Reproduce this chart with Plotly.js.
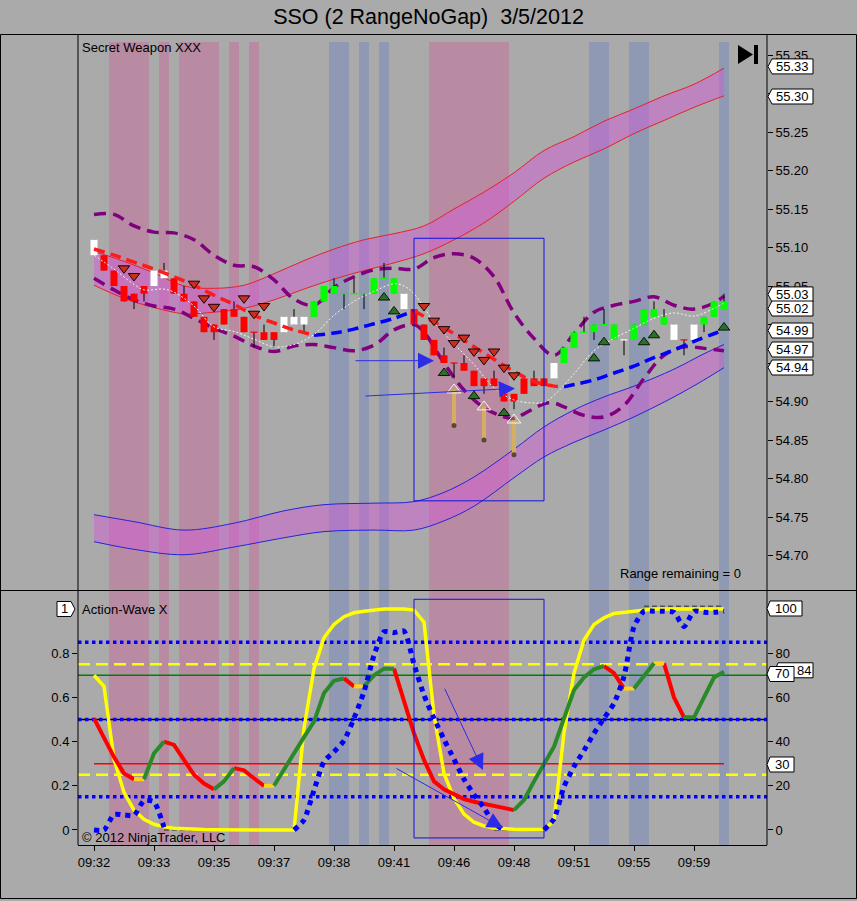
<!DOCTYPE html>
<html>
<head>
<meta charset="utf-8">
<script src="https://cdn.plot.ly/plotly-3.0.1.min.js"></script>
<style>
html,body{margin:0;padding:0;background:#AAAAAA;overflow:hidden;}
#chart{width:857px;height:901px;}
</style>
</head>
<body>
<div id="chart"></div>
<script>
// ================= DATA =================
const chartTitle = 'SSO (2 RangeNoGap)\u00A0 3/5/2012';
const upperPanelName = 'Secret Weapon XXX';
const lowerPanelName = 'Action-Wave X';
const copyrightText = '\u00A9 2012 NinjaTrader, LLC';
const rangeText = 'Range remaining = 0';

const timeTickBars   = [0, 6, 12, 18, 24, 30, 36, 42, 48, 54, 60];
const timeTickLabels = ['09:32','09:33','09:35','09:37','09:38','09:41','09:46','09:48','09:51','09:55','09:59'];

const priceTickVals = [54.70,54.75,54.80,54.85,54.90,54.95,55.00,55.05,55.10,55.15,55.20,55.25,55.30,55.35];
const priceTickHidden = [54.95,55.00,55.30];   // covered by the value flags

const barColor = ['W','R','R','R','R','R','W','W','R','R',
                  'R','R','R','R','R','R','R','R','R','W',
                  'W','W','G','G','G','G','G','G','G','G',
                  'G','W','R','R','R','R','R','R','R','R',
                  'R','R','R','R','R','R','W','G','G','G',
                  'G','G','G','W','G','G','G','G','W','R',
                  'W','G','G','G'];
const barOpen  = [55.09,55.09,55.07,55.05,55.04,55.05,55.05,55.06,55.06,55.04,
                  55.03,55.01,55.00,55.02,55.02,55.01,54.99,54.99,54.99,54.99,
                  55.00,55.00,55.01,55.03,55.04,55.04,55.04,55.04,55.04,55.06,
                  55.04,55.04,55.02,55.00,54.98,54.96,54.95,54.95,54.94,54.93,
                  54.93,54.91,54.91,54.93,54.93,54.93,54.93,54.95,54.97,54.99,
                  54.99,55.00,54.98,54.98,54.98,55.00,55.01,55.00,54.98,54.98,
                  54.98,55.00,55.01,55.02];
const barHigh  = [55.11,55.09,55.07,55.05,55.04,55.05,55.07,55.08,55.06,55.05,
                  55.03,55.01,55.00,55.02,55.03,55.01,54.99,55.00,54.99,55.01,
                  55.02,55.01,55.03,55.05,55.06,55.04,55.06,55.04,55.06,55.08,
                  55.06,55.04,55.02,55.00,54.98,54.97,54.95,54.96,54.94,54.93,
                  54.94,54.91,54.91,54.93,54.94,54.93,54.95,54.97,54.99,55.01,
                  55.00,55.02,55.00,54.98,55.00,55.02,55.03,55.02,55.00,54.98,
                  55.00,55.01,55.03,55.04];
const barLow   = [55.09,55.07,55.05,55.03,55.02,55.03,55.05,55.06,55.04,55.03,
                  55.01,54.99,54.98,55.00,55.01,54.99,54.97,54.98,54.97,54.99,
                  55.00,54.99,55.01,55.03,55.04,55.02,55.04,55.02,55.04,55.06,
                  55.04,55.02,55.00,54.98,54.96,54.95,54.93,54.94,54.92,54.91,
                  54.92,54.90,54.89,54.91,54.92,54.92,54.93,54.95,54.97,54.99,
                  54.98,55.00,54.98,54.96,54.98,55.00,55.01,55.00,54.98,54.96,
                  54.98,54.99,55.01,55.02];
const barClose = [55.11,55.07,55.05,55.03,55.03,55.04,55.07,55.07,55.04,55.03,
                  55.01,54.99,54.99,55.00,55.01,54.99,54.99,54.98,54.98,55.01,
                  55.01,55.01,55.03,55.05,55.05,55.04,55.04,55.04,55.06,55.06,
                  55.06,55.02,55.00,54.98,54.96,54.95,54.95,54.94,54.92,54.92,
                  54.92,54.90,54.90,54.91,54.92,54.92,54.95,54.97,54.99,54.99,
                  55.00,55.00,55.00,54.98,55.00,55.02,55.02,55.01,55.00,54.98,
                  55.00,55.01,55.03,55.03];

// upper channel (red edges)
const upperBandBars = [0,3,6,9,12,15,18,21,24,27,30,33,36,39,42,45,48,51,54,57,60,63];
const upperBandHigh = [55.095,55.082,55.067,55.050,55.047,55.051,55.066,55.083,55.098,55.110,55.118,55.128,55.150,55.172,55.197,55.226,55.244,55.264,55.280,55.297,55.312,55.333];
const upperBandLow  = [55.051,55.034,55.022,55.014,55.016,55.021,55.032,55.046,55.059,55.070,55.080,55.092,55.110,55.132,55.160,55.190,55.211,55.228,55.248,55.265,55.282,55.297];
// lower channel (blue edges)
const lowerBandBars = [0,4,9,14,19,23,28,32,35,38,42,45,48,51,54,58,61,63];
const lowerBandHigh = [54.753,54.744,54.733,54.742,54.758,54.766,54.768,54.770,54.782,54.802,54.838,54.867,54.889,54.906,54.920,54.942,54.962,54.974];
const lowerBandLow  = [54.718,54.708,54.701,54.711,54.723,54.731,54.733,54.733,54.745,54.764,54.801,54.828,54.847,54.863,54.880,54.906,54.928,54.944];

// purple envelopes
const envUpperBars = [0,2,4,6,8,10,12,14,16,18,20,22,24,26,28,30,32,34,36,38,40,42,44,46,48,50,52,54,56,58,60,62,63];
const envUpperVals = [55.143,55.143,55.128,55.120,55.119,55.110,55.090,55.077,55.075,55.058,55.033,55.025,55.048,55.062,55.071,55.073,55.072,55.087,55.092,55.086,55.062,55.015,54.982,54.960,54.988,55.016,55.025,55.030,55.036,55.025,55.020,55.028,55.037];
const envLowerBars = [0,2,4,6,8,10,12,14,16,18,20,22,24,26,28,30,32,33,35,37,39,41,42,43,45,46,47,49,51,53,55,57,59,61,63];
const envLowerVals = [55.060,55.045,55.032,55.024,55.020,55.008,54.995,54.985,54.972,54.965,54.972,54.974,54.970,54.966,54.973,54.993,55.000,54.990,54.950,54.915,54.892,54.880,54.878,54.884,54.897,54.898,54.893,54.882,54.880,54.895,54.930,54.960,54.971,54.969,54.966];

// trend moving average (R = falling, B = rising; code = segment ending at that point)
const maBars  = [0,2,4,6,8,10,12,14,16,18,20,22,24,26,28,30,32,34,36,38,40,42,44,46,47,48,50,52,54,56,58,60,62,63];
const maVals  = [55.098,55.090,55.081,55.072,55.062,55.051,55.038,55.026,55.012,55.002,54.993,54.986,54.989,54.994,55.001,55.008,55.018,55.003,54.988,54.971,54.955,54.939,54.926,54.920,54.919,54.922,54.928,54.937,54.946,54.957,54.967,54.978,54.988,54.993];
const maTrend = ['-','R','R','R','R','R','R','R','R','R','R','R','B','B','B','B','B','R','R','R','R','R','R','R','R','B','B','B','B','B','B','B','B','B'];

// fast (white dotted) average
const fastBars = [0,2,4,5,7,8,10,12,14,16,18,20,22,24,26,28,30,31,32,34,36,38,40,42,44,45,46,48,50,52,54,56,58,60,62,63];
const fastVals = [55.090,55.072,55.052,55.045,55.046,55.042,55.024,54.997,54.991,54.981,54.971,54.974,54.987,55.012,55.030,55.043,55.053,55.050,55.040,55.003,54.975,54.948,54.918,54.902,54.898,54.899,54.908,54.936,54.966,54.982,54.995,55.008,55.015,55.011,55.021,55.028];

// signal markers
const sellMarkBars = [3,4,10,11,12,15,16,17,33,34,35,36,37,38,39,40,41,42];
const sellMarkVals = [55.073,55.063,55.053,55.034,55.023,55.034,55.014,55.024,55.024,55.005,54.994,54.976,54.983,54.965,54.954,54.965,54.944,54.934];
const buyMarkBars  = [29,30,35,38,41,50,51,55,56,63];
const buyMarkVals  = [55.035,55.017,54.937,54.907,54.885,54.956,54.977,54.977,54.986,54.996];
const arrowMarkBars = [36,39,42];
const arrowMarkTip  = [54.915,54.893,54.876];
const arrowMarkBase = [54.869,54.850,54.831];

// highlighted bar columns
const pinkBars = [2,3,4,5,7,9,10,11,12,14,16,34,35,36,37,38,39,40,41];
const blueBars = [24,25,27,29,50,51,54,55,63];

// right-side value flags
const priceFlags = [55.33,55.30,55.03,55.02,54.99,54.97,54.94];
const waveFlags  = ['100','84','70','30'];

// lower panel series
const yellowVals = [0.70,0.65,0.32,0.17,0.09,0.048,0.026,0.014,0.008,0.005,
                    0.003,0.002,0.001,0.001,0,0,0,0,0,0,
                    0,0.46,0.73,0.87,0.93,0.965,0.983,0.99,0.995,1.0,
                    1.0,1.0,0.995,0.94,0.52,0.256,0.143,0.072,0.035,0.018,
                    0.009,0.005,0.003,0.002,0.002,0.003,0.04,0.44,0.71,0.86,
                    0.93,0.96,0.98,0.985,0.99,0.995,1.0,1.0,1.0,1.0,
                    1.0,1.0,1.0,1.0];
const blueDotVals = [0,0,0.07,0.068,0.066,0.133,0.127,0.012,0,0,
                    0,0,0,0,0,0,0,0,0,0,
                    0,0.045,0.18,0.31,0.354,0.404,0.505,0.626,0.79,0.897,
                    0.893,0.90,0.75,0.61,0.505,0.41,0.32,0.23,0.16,0.10,
                    0.03,0,0,0,0,0,0.05,0.196,0.287,0.36,
                    0.437,0.505,0.573,0.694,0.92,0.99,0.99,0.99,0.985,0.92,
                    0.99,0.985,0.985,0.99];
// B = drawn, N = not drawn (pinned at an extreme)
const blueDotShow = ['-','B','B','B','B','B','B','B','N','N',
                     'N','N','N','N','N','N','N','N','N','N',
                     'N','B','B','B','B','B','B','B','B','B',
                     'B','B','B','B','B','B','B','B','B','B',
                     'B','B','N','N','N','N','B','B','B','B',
                     'B','B','B','B','B','B','B','B','B','B',
                     'B','B','B','B'];
// gray limit line: L = at floor, H = at ceiling
const limitFlag = ['-','-','-','-','-','-','-','L','L','L',
                   'L','L','L','L','L','L','L','L','L','L',
                   'L','-','-','-','-','-','-','-','-','-',
                   '-','-','-','-','-','-','-','-','-','-',
                   'L','L','L','L','L','L','-','-','-','-',
                   '-','-','-','-','-','H','H','H','H','H',
                   'H','H','H','H'];
const limitFloor = 0.0;
const limitCeil  = 1.012;
const waveVals = [0.505,0.42,0.33,0.256,0.23,0.23,0.347,0.40,0.385,0.317,
                  0.25,0.21,0.184,0.22,0.28,0.27,0.234,0.20,0.20,0.276,
                  0.347,0.42,0.49,0.62,0.675,0.686,0.65,0.65,0.70,0.73,
                  0.73,0.58,0.437,0.317,0.22,0.184,0.16,0.14,0.128,0.118,
                  0.11,0.10,0.09,0.136,0.22,0.30,0.377,0.505,0.633,0.69,
                  0.727,0.742,0.71,0.64,0.64,0.70,0.754,0.754,0.60,0.51,
                  0.51,0.60,0.69,0.716];
const waveTrend = ['-','R','R','R','R','Y','G','G','R','R',
                   'R','R','R','G','G','R','R','R','Y','G',
                   'G','G','G','G','G','G','R','Y','G','G',
                   'G','R','R','R','R','R','R','R','R','R',
                   'R','R','R','G','G','G','G','G','G','G',
                   'G','G','R','R','Y','G','G','Y','R','R',
                   'G','G','G','G'];
const levelBlueDotted = [0.85,0.50,0.15];
const levelYellowDash = [0.75,0.25];
const levelGreen = [0.70];
const levelBlack = [0.50];
const levelRed   = [0.30];
const leftTickVals = [0,0.2,0.4,0.6,0.8];
const leftTickText = ['0','0.2','0.4','0.6','0.8'];
const rightTickVals = [0,20,40,60,80];
const rightTickText = ['0','20','40','60','80'];

// ================= BUILD =================
const bars = barOpen.map((_, i) => i);
const PX = x => (x - 78) / 689;     // pixel -> paper (layout decorations only)
const PY = y => (845 - y) / 803;
const FONT = 'Liberation Sans, Arial, sans-serif';

function runs(xs, ys, codes) {
  const out = {};
  let k = 1;
  while (k < xs.length) {
    const c = codes[k];
    if (!out[c]) out[c] = {x: [], y: []};
    const o = out[c];
    o.x.push(xs[k - 1]); o.y.push(ys[k - 1]);
    while (k < xs.length && codes[k] === c) { o.x.push(xs[k]); o.y.push(ys[k]); k++; }
    o.x.push(null); o.y.push(null);
  }
  return out;
}
function spans(list) {
  const s = [...list].sort((a, b) => a - b);
  const out = []; let a = s[0], b = s[0];
  for (let k = 1; k < s.length; k++) {
    if (s[k] === b + 1) b = s[k]; else { out.push([a, b]); a = b = s[k]; }
  }
  out.push([a, b]);
  return out;
}

const traces = [];
const T = {xaxis: 'x', yaxis: 'y', hoverinfo: 'skip', type: 'scatter'};
const L = {xaxis: 'x', yaxis: 'y2', hoverinfo: 'skip', type: 'scatter'};

// channels
traces.push({...T, mode: 'lines', x: upperBandBars, y: upperBandLow, line: {color: '#E8202A', width: 1, shape: 'spline'}});
traces.push({...T, mode: 'lines', x: upperBandBars, y: upperBandHigh, fill: 'tonexty', fillcolor: 'rgba(212,90,214,0.47)', line: {color: '#E8202A', width: 1, shape: 'spline'}});
traces.push({...T, mode: 'lines', x: lowerBandBars, y: lowerBandLow, line: {color: '#2424DA', width: 1, shape: 'spline'}});
traces.push({...T, mode: 'lines', x: lowerBandBars, y: lowerBandHigh, fill: 'tonexty', fillcolor: 'rgba(212,90,214,0.47)', line: {color: '#2424DA', width: 1, shape: 'spline'}});

// envelopes
traces.push({...T, mode: 'lines', x: envUpperBars, y: envUpperVals, line: {color: '#800080', width: 3.5, dash: '12px,7px', shape: 'spline'}});
traces.push({...T, mode: 'lines', x: envLowerBars, y: envLowerVals, line: {color: '#800080', width: 3.5, dash: '12px,7px', shape: 'spline'}});

// candles: wicks then bodies
const wx = [], wy = [];
bars.forEach(i => { wx.push(i, i, null); wy.push(barLow[i], barHigh[i], null); });
traces.push({...T, mode: 'lines', x: wx, y: wy, line: {color: '#000000', width: 1}});
const bodyColors = {R: '#FF0000', G: '#00FF00', W: '#FFFFFF'};
Object.keys(bodyColors).forEach(c => {
  const bx = [], by = [];
  bars.forEach(i => {
    if (barColor[i] !== c) return;
    let lo = Math.min(barOpen[i], barClose[i]), hi = Math.max(barOpen[i], barClose[i]);
    if (hi - lo < 0.0015) { lo -= 0.0008; hi += 0.0008; }
    bx.push(i, i, null); by.push(lo, hi, null);
  });
  traces.push({...T, mode: 'lines', x: bx, y: by, line: {color: bodyColors[c], width: 7}});
});

// trend MA
const maRuns = runs(maBars, maVals, maTrend);
const maCols = {R: '#FF1A1A', B: '#0000FF'};
Object.keys(maRuns).forEach(c => traces.push({...T, mode: 'lines', x: maRuns[c].x, y: maRuns[c].y, line: {color: maCols[c], width: 3.5, dash: '11px,6px', shape: 'spline'}}));

// fast average
traces.push({...T, mode: 'lines', x: fastBars, y: fastVals, line: {color: '#F4F4F4', width: 1, dash: '2px,2px', shape: 'spline'}});

// markers
traces.push({...T, mode: 'markers', x: sellMarkBars, y: sellMarkVals, marker: {symbol: 'triangle-down', size: 10, color: '#C8301E', line: {color: '#1A0000', width: 1}}});
traces.push({...T, mode: 'markers', x: buyMarkBars, y: buyMarkVals, marker: {symbol: 'triangle-up', size: 10, color: '#2D6E2D', line: {color: '#001A00', width: 1}}});
const ax = [], ay = [];
arrowMarkBars.forEach((b, k) => { ax.push(b, b, null); ay.push(arrowMarkBase[k], arrowMarkTip[k], null); });
traces.push({...T, mode: 'lines', x: ax, y: ay, line: {color: '#D6AE62', width: 4}});
traces.push({...T, mode: 'markers', x: arrowMarkBars, y: arrowMarkTip, marker: {symbol: 'triangle-up', size: 12, color: 'rgba(214,174,98,0.35)', line: {color: '#F2F2F2', width: 1}}});
traces.push({...T, mode: 'markers', x: arrowMarkBars, y: arrowMarkBase, marker: {symbol: 'circle', size: 5, color: '#5A4632'}});

// lower panel
const lim = runs(bars, limitFlag.map(f => f === 'H' ? limitCeil : limitFloor), limitFlag.map((f, k) => (k > 0 && f !== '-' && limitFlag[k - 1] === f) ? f : '-'));
['L', 'H'].forEach(c => { if (lim[c]) traces.push({...L, mode: 'lines', x: lim[c].x, y: lim[c].y, line: {color: '#505050', width: 1.5, dash: '5px,3px'}}); });
traces.push({...L, mode: 'lines', x: bars, y: yellowVals, line: {color: '#FFFF00', width: 3.5}});
const wRuns = runs(bars, waveVals, waveTrend);
const wCols = {R: '#FF0000', G: '#2A8A2A', Y: '#FFD21A'};
Object.keys(wRuns).forEach(c => traces.push({...L, mode: 'lines', x: wRuns[c].x, y: wRuns[c].y, line: {color: wCols[c], width: 4}}));
const bRuns = runs(bars, blueDotVals, blueDotShow);
traces.push({...L, mode: 'lines', x: bRuns.B.x, y: bRuns.B.y, line: {color: '#0000FF', width: 5, dash: 'dot', shape: 'spline', smoothing: 0.6}});
// dummy trace so the right-hand scale is drawn
traces.push({xaxis: 'x', yaxis: 'y3', type: 'scatter', mode: 'lines', x: [bars[0]], y: [0], hoverinfo: 'skip', line: {width: 0}, showlegend: false});

// ================= SHAPES =================
const shapes = [];
spans(pinkBars).forEach(([a, b]) => shapes.push({type: 'rect', xref: 'x', yref: 'paper', x0: a - 0.5, x1: b + 0.5, y0: 0, y1: 1, fillcolor: 'rgba(217,70,150,0.30)', line: {width: 0}, layer: 'below'}));
spans(blueBars).forEach(([a, b]) => shapes.push({type: 'rect', xref: 'x', yref: 'paper', x0: a - 0.5, x1: b + 0.5, y0: 0, y1: 1, fillcolor: 'rgba(83,117,203,0.30)', line: {width: 0}, layer: 'below'}));
levelBlack.forEach(v => shapes.push({type: 'line', xref: 'paper', yref: 'y2', x0: 0, x1: 1, y0: v, y1: v, line: {color: '#000000', width: 1.5}, layer: 'below'}));
levelGreen.forEach(v => shapes.push({type: 'line', xref: 'paper', yref: 'y2', x0: 0, x1: 1, y0: v, y1: v, line: {color: '#008000', width: 1.5}, layer: 'below'}));
levelRed.forEach(v => shapes.push({type: 'line', xref: 'x', yref: 'y2', x0: bars[0], x1: bars[bars.length - 1], y0: v, y1: v, line: {color: '#FF0000', width: 1.5}, layer: 'below'}));
levelYellowDash.forEach(v => shapes.push({type: 'line', xref: 'paper', yref: 'y2', x0: 0, x1: 1, y0: v, y1: v, line: {color: '#FFFF00', width: 2.5, dash: '12px,6px'}, layer: 'below'}));
levelBlueDotted.forEach(v => shapes.push({type: 'line', xref: 'paper', yref: 'y2', x0: 0, x1: 1, y0: v, y1: v, line: {color: '#0000FF', width: 3.5, dash: 'dot'}, layer: 'below'}));

// drawing objects (user rectangles)
shapes.push({type: 'rect', xref: 'x', yref: 'y', x0: 32, x1: 45, y0: 54.771, y1: 55.112, line: {color: '#1010E0', width: 1}, layer: 'above'});
shapes.push({type: 'rect', xref: 'x', yref: 'y2', x0: 32, x1: 45, y0: -0.036, y1: 1.044, line: {color: '#1010E0', width: 1}, layer: 'above'});

// frame
shapes.push({type: 'rect', xref: 'paper', yref: 'paper', x0: PX(0.5), x1: PX(856.5), y0: PY(898.5), y1: PY(34.5), line: {color: '#000', width: 1}, layer: 'above'});
shapes.push({type: 'line', xref: 'paper', yref: 'paper', x0: PX(0), x1: PX(857), y0: PY(590.5), y1: PY(590.5), line: {color: '#000', width: 1}, layer: 'above'});
shapes.push({type: 'line', xref: 'paper', yref: 'paper', x0: 0, x1: 0, y0: 0, y1: PY(34.5), line: {color: '#000', width: 1}, layer: 'above'});
shapes.push({type: 'line', xref: 'paper', yref: 'paper', x0: 1, x1: 1, y0: 0, y1: PY(34.5), line: {color: '#000', width: 1}, layer: 'above'});
// go-to-end icon
shapes.push({type: 'path', xref: 'paper', yref: 'paper', path: `M${PX(738)},${PY(45)} L${PX(738)},${PY(64)} L${PX(753)},${PY(54.5)} Z`, fillcolor: '#000', line: {width: 0}, layer: 'above'});
shapes.push({type: 'rect', xref: 'paper', yref: 'paper', x0: PX(754), x1: PX(758), y0: PY(64), y1: PY(45), fillcolor: '#000', line: {width: 0}, layer: 'above'});

// value flags
const annotations = [];
const priceFlagShift = [4, -3, 7, 0.6, 1.7, -1.9, 3.2];
priceFlags.forEach((v, k) => {
  const s = priceFlagShift[k];
  shapes.push({type: 'path', xref: 'paper', yref: 'y', xsizemode: 'pixel', ysizemode: 'pixel', xanchor: 1, yanchor: v,
    path: `M1,${s} L5,${s + 7.5} L46,${s + 7.5} L46,${s - 7.5} L5,${s - 7.5} Z`, fillcolor: '#FFFFFF', line: {color: '#000', width: 1}, layer: 'above'});
  annotations.push({xref: 'paper', yref: 'y', x: PX(767 + 25.5), y: v, yshift: s, text: v.toFixed(2), showarrow: false, xanchor: 'center', yanchor: 'middle', font: {size: 13, color: '#000', family: FONT}});
});
const waveFlagPos = [1.0, 0.70, 0.70, 0.30];
const waveFlagShift = [0.5, 5, 1.3, -0.8];
const waveFlagBox = [[3, 35], [11, 46], [3, 27], [3, 27]];
const waveFlagText = [19, 37, 15, 15];
waveFlags.forEach((t, k) => {
  const s = waveFlagShift[k], b = waveFlagBox[k], v = waveFlagPos[k];
  shapes.push({type: 'path', xref: 'paper', yref: 'y2', xsizemode: 'pixel', ysizemode: 'pixel', xanchor: 1, yanchor: v,
    path: `M${b[0] - 3},${s} L${b[0]},${s + 7.5} L${b[1]},${s + 7.5} L${b[1]},${s - 7.5} L${b[0]},${s - 7.5} Z`, fillcolor: '#FFFFFF', line: {color: '#000', width: 1}, layer: 'above'});
  annotations.push({xref: 'paper', yref: 'y2', x: PX(767 + waveFlagText[k]), y: v, yshift: s, text: t, showarrow: false, xanchor: 'center', yanchor: 'middle', font: {size: 13, color: '#000', family: FONT}});
});
// panel number flag
shapes.push({type: 'path', xref: 'paper', yref: 'y2', xsizemode: 'pixel', ysizemode: 'pixel', xanchor: 0, yanchor: 1.0,
  path: 'M-3,0 L-7,7.5 L-21,7.5 L-21,-7.5 L-7,-7.5 Z', fillcolor: '#FFFFFF', line: {color: '#000', width: 1}, layer: 'above'});
annotations.push({xref: 'paper', yref: 'y2', x: PX(78 - 14), y: 1.0, text: '1', showarrow: false, xanchor: 'center', yanchor: 'middle', font: {size: 13, color: '#000', family: FONT}});

// texts
annotations.push({xref: 'paper', yref: 'paper', x: PX(80), y: PY(47), text: upperPanelName, showarrow: false, xanchor: 'left', yanchor: 'middle', font: {size: 13, color: '#000', family: FONT}});
annotations.push({xref: 'paper', yref: 'paper', x: PX(80), y: PY(609), text: lowerPanelName, showarrow: false, xanchor: 'left', yanchor: 'middle', font: {size: 13, color: '#000', family: FONT}});
annotations.push({xref: 'paper', yref: 'paper', x: PX(80), y: PY(837), text: copyrightText, showarrow: false, xanchor: 'left', yanchor: 'middle', font: {size: 13, color: '#000', family: FONT}});
annotations.push({xref: 'paper', yref: 'paper', x: PX(743), y: PY(573), text: rangeText, showarrow: false, xanchor: 'right', yanchor: 'middle', font: {size: 13, color: '#000', family: FONT}});

// drawn arrows
const arrowStyle = {text: '', showarrow: true, arrowhead: 2, arrowsize: 3.2, arrowwidth: 1, arrowcolor: '#2B2BE8', standoff: 0};
annotations.push({...arrowStyle, xref: 'x', yref: 'y', axref: 'x', ayref: 'y', x: 34.0, y: 54.953, ax: 26.0, ay: 54.953});
annotations.push({...arrowStyle, xref: 'x', yref: 'y', axref: 'x', ayref: 'y', x: 42.1, y: 54.917, ax: 27.0, ay: 54.907});
annotations.push({...arrowStyle, xref: 'x', yref: 'y2', axref: 'x', ayref: 'y2', x: 38.9, y: 0.271, ax: 35.0, ay: 0.646});
annotations.push({...arrowStyle, xref: 'x', yref: 'y2', axref: 'x', ayref: 'y2', x: 40.9, y: 0.009, ax: 30.1, ay: 0.282});

const axisCommon = {ticks: 'outside', ticklen: 5, tickcolor: '#000', tickwidth: 1, showgrid: false, zeroline: false, showline: false, fixedrange: true, tickfont: {size: 13, color: '#000', family: FONT}};
const layout = {
  width: 857, height: 901,
  margin: {l: 78, r: 90, t: 42, b: 56, pad: 0},
  paper_bgcolor: '#AAAAAA', plot_bgcolor: '#AAAAAA',
  showlegend: false,
  font: {family: FONT, size: 13, color: '#000'},
  title: {text: chartTitle, x: 0.5, xref: 'container', xanchor: 'center', y: 1 - 16 / 901, yref: 'container', yanchor: 'middle', font: {size: 21.5, color: '#000', family: FONT}},
  xaxis: {...axisCommon, domain: [0, 1], anchor: 'y2', range: [-1.6, 67.3], tickmode: 'array', tickvals: timeTickBars, ticktext: timeTickLabels, showline: true, linecolor: '#000', linewidth: 1},
  yaxis: {...axisCommon, domain: [0.31756, 1], anchor: 'x', side: 'right', range: [54.6552, 55.3669], tickmode: 'array', tickvals: priceTickVals,
          ticktext: priceTickVals.map(v => priceTickHidden.some(h => Math.abs(h - v) < 1e-9) ? '' : v.toFixed(2))},
  yaxis2: {...axisCommon, domain: [0, 0.31631], anchor: 'x', side: 'left', range: [-0.0679, 1.0814], tickmode: 'array', tickvals: leftTickVals, ticktext: leftTickText},
  yaxis3: {...axisCommon, overlaying: 'y2', anchor: 'x', side: 'right', range: [-6.79, 108.14], tickmode: 'array', tickvals: rightTickVals, ticktext: rightTickText},
  shapes: shapes,
  annotations: annotations
};
Plotly.newPlot('chart', traces, layout, {displayModeBar: false, staticPlot: true});
</script>
</body>
</html>
